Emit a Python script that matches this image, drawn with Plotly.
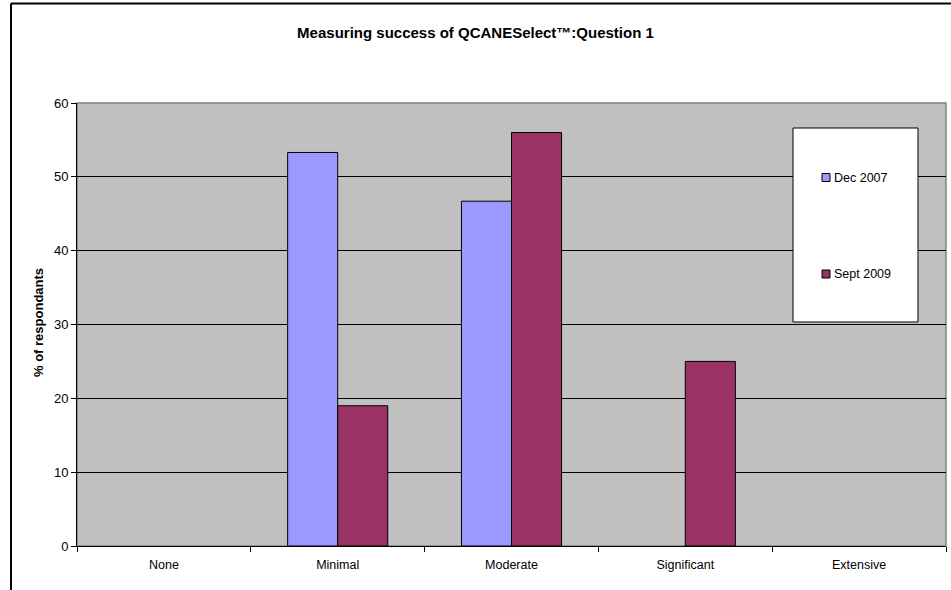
import plotly.graph_objects as go

categories = ["None", "Minimal", "Moderate", "Significant", "Extensive"]
dec2007 = [None, 53.3, 46.7, None, None]
sept2009 = [None, 19, 56, 25, None]
series_names = ["Dec 2007", "Sept 2009"]
series_colors = ["#9999FF", "#993366"]
y_ticks = [0, 10, 20, 30, 40, 50, 60]

W, H = 951, 590
ML, MR, MT, MB = 77, 5, 103, 44
PW = W - ML - MR
PH = H - MT - MB

def px_x(p):
    return (p - ML) / PW

def px_y(p):
    return (H - MB - p) / PH

FONT = "Liberation Sans, Arial, sans-serif"

fig = go.Figure()
for name, vals, col in zip(series_names, [dec2007, sept2009], series_colors):
    fig.add_trace(go.Bar(x=categories, y=vals, name=name,
                         marker=dict(color=col, line=dict(color="#000000", width=1)),
                         showlegend=False))

shapes = [
    dict(type="rect", xref="paper", yref="paper", x0=0, x1=1, y0=0, y1=1,
         line=dict(color="#808080", width=1.5), fillcolor="rgba(0,0,0,0)", layer="below"),
    dict(type="rect", xref="paper", yref="paper",
         x0=px_x(793), x1=px_x(918), y0=px_y(322), y1=px_y(128),
         line=dict(color="#000000", width=1), fillcolor="#FFFFFF", layer="above"),
    dict(type="line", xref="paper", yref="paper",
         x0=px_x(11), x1=px_x(960), y0=px_y(3.5), y1=px_y(3.5),
         line=dict(color="#000000", width=2)),
    dict(type="line", xref="paper", yref="paper",
         x0=px_x(11), x1=px_x(11), y0=px_y(3.5), y1=px_y(600),
         line=dict(color="#000000", width=2)),
]

annotations = [dict(text="<b>% of respondants</b>", textangle=-90,
                    xref="paper", yref="paper", x=px_x(38), y=px_y(323),
                    xanchor="center", yanchor="middle", showarrow=False,
                    font=dict(family=FONT, size=13, color="#000000"))]

legend_centers = [177.5, 274]
for name, col, cy in zip(series_names, series_colors, legend_centers):
    shapes.append(dict(type="rect", xref="paper", yref="paper",
                       x0=px_x(822), x1=px_x(830), y0=px_y(cy + 4), y1=px_y(cy - 4),
                       line=dict(color="#000000", width=1), fillcolor=col, layer="above"))
    annotations.append(dict(text=name, xref="paper", yref="paper",
                            x=px_x(832), y=px_y(cy), xanchor="left", yanchor="middle",
                            showarrow=False,
                            font=dict(family=FONT, size=12.5, color="#000000")))

fig.update_layout(
    width=W, height=H,
    margin=dict(l=ML, r=MR, t=MT, b=MB),
    paper_bgcolor="#FFFFFF",
    plot_bgcolor="#C0C0C0",
    font=dict(family=FONT, size=11, color="#000000"),
    barmode="group",
    bargap=0.424,
    bargroupgap=0,
    title=dict(text="<b>Measuring success of QCANESelect™:Question 1</b>",
               x=0.5, xref="container", y=1 - 33 / H, yanchor="middle",
               font=dict(family=FONT, size=15, color="#000000")),
    xaxis=dict(type="category", categoryorder="array", categoryarray=categories,
               range=[-0.5, 4.5], showline=True, linecolor="#000000", linewidth=1,
               ticks="outside", tickson="boundaries", ticklen=5, tickcolor="#000000",
               ticklabelstandoff=7,
               showgrid=False, zeroline=False, fixedrange=True,
               tickfont=dict(family=FONT, size=12.5, color="#000000")),
    yaxis=dict(range=[0, 60], tickvals=y_ticks, showline=True, linecolor="#000000",
               linewidth=1, ticks="outside", ticklen=5, tickcolor="#000000",
               showgrid=True, gridcolor="#000000", gridwidth=1, zeroline=False,
               tickfont=dict(family=FONT, size=13, color="#000000")),
    showlegend=False,
    shapes=shapes,
    annotations=annotations,
)

fig.write_html("out.html")
